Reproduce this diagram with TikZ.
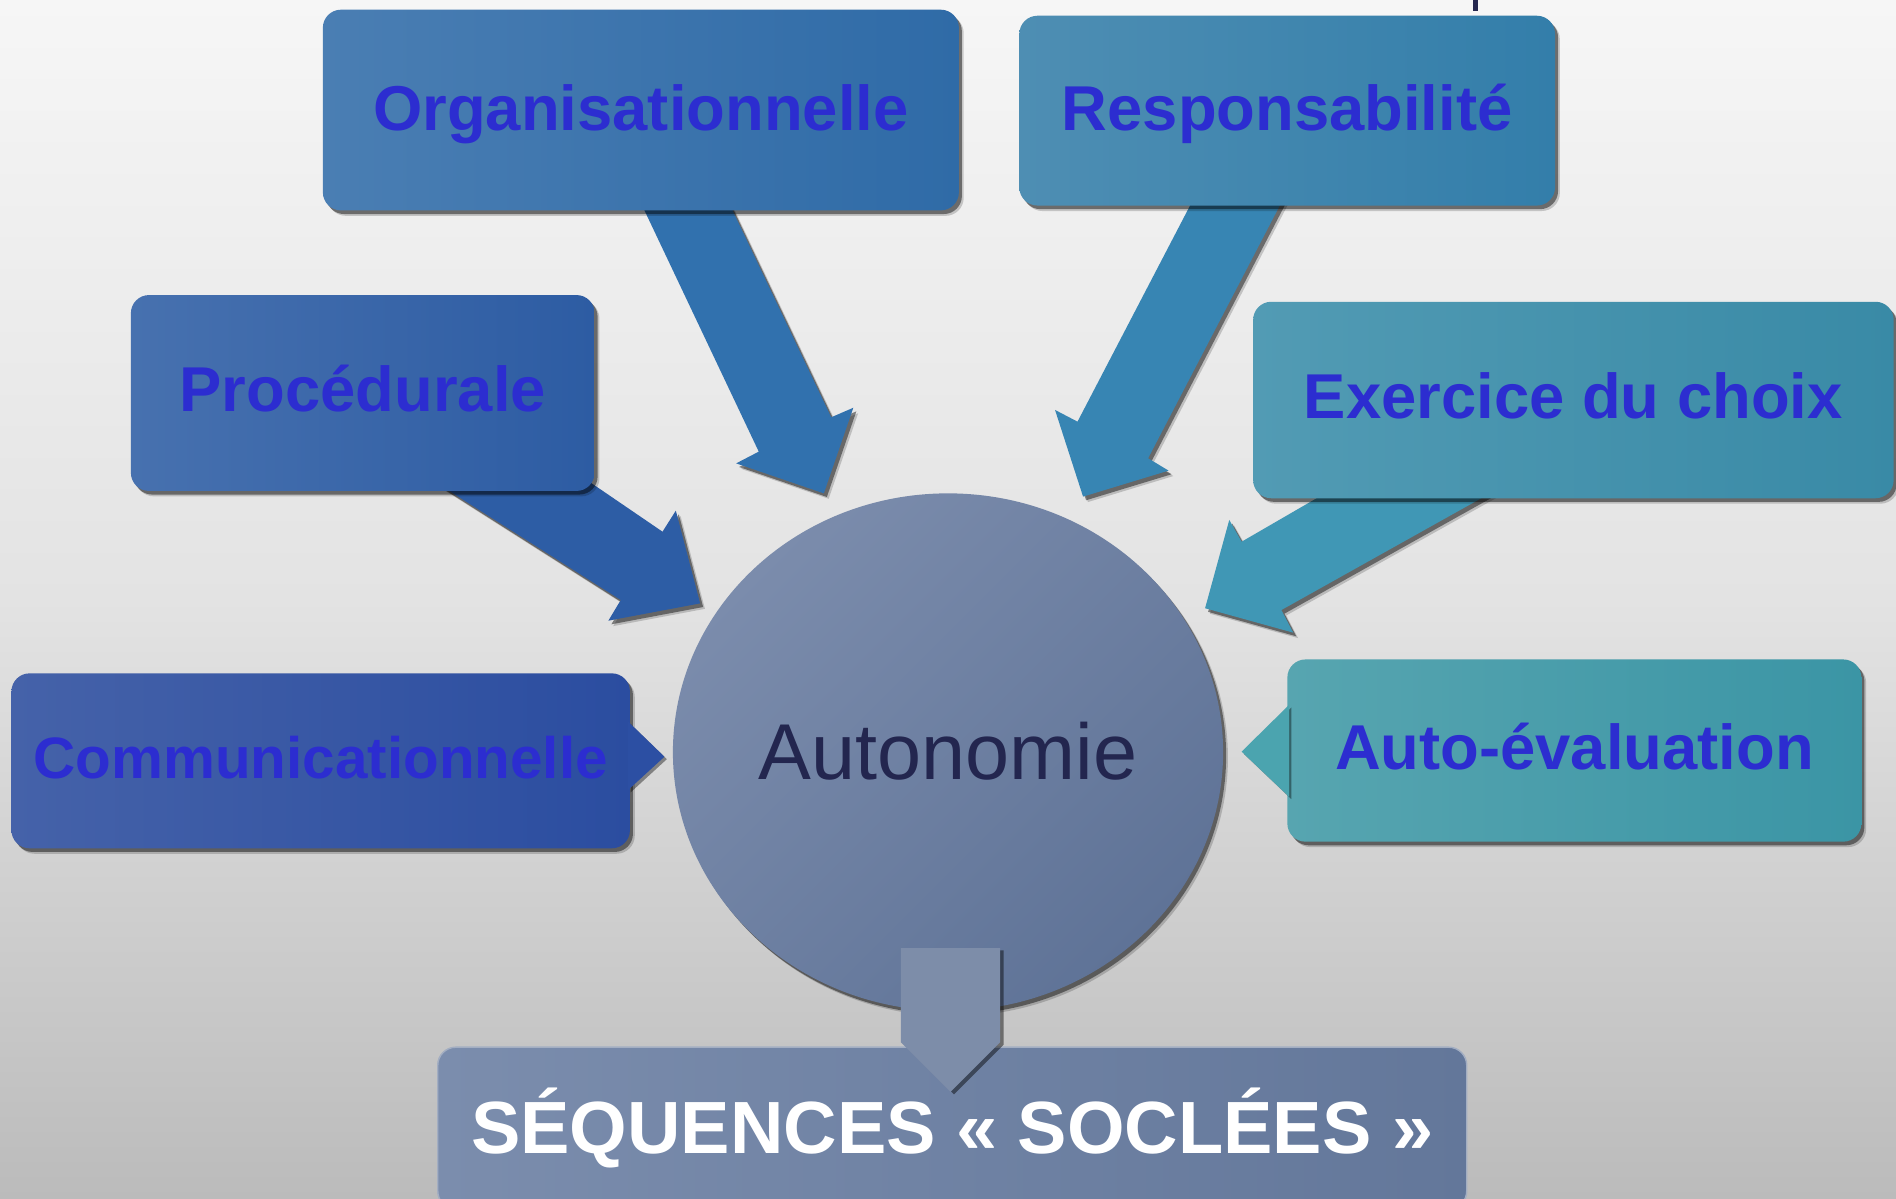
\documentclass[tikz,border=0pt]{standalone}
\usepackage{fontspec}
\setmainfont{Liberation Sans}
\usetikzlibrary{shapes.geometric,shadows}
\definecolor{bgtop}{HTML}{F6F6F6}
\definecolor{bgmid}{HTML}{E3E3E3}
\definecolor{bgbot}{HTML}{BBBBBB}
\definecolor{boxtext}{HTML}{2C2DD0}
\definecolor{autotext}{HTML}{23264F}
\definecolor{circA}{HTML}{7B8CAC}
\definecolor{circB}{HTML}{5F7397}
\definecolor{orgL}{HTML}{4A7EB3}\definecolor{orgM}{HTML}{3A78BA}\definecolor{orgR}{HTML}{2F6BA7}
\definecolor{respL}{HTML}{4E8EB3}\definecolor{respM}{HTML}{3A8BBB}\definecolor{respR}{HTML}{337EAA}
\definecolor{procL}{HTML}{4771AF}\definecolor{procM}{HTML}{3668B7}\definecolor{procR}{HTML}{2D5CA3}
\definecolor{exerL}{HTML}{529BB4}\definecolor{exerM}{HTML}{4399B8}\definecolor{exerR}{HTML}{398AA6}
\definecolor{commL}{HTML}{4562A9}\definecolor{commM}{HTML}{3259B6}\definecolor{commR}{HTML}{2B4DA0}
\definecolor{autoL}{HTML}{57A5B0}\definecolor{autoM}{HTML}{45A7B7}\definecolor{autoR}{HTML}{3B95A5}
\definecolor{orgArrow}{HTML}{3171AE}
\definecolor{respArrow}{HTML}{3785B3}
\definecolor{procArrow}{HTML}{2D5DA5}
\definecolor{exerArrow}{HTML}{4097B5}
\definecolor{commTri}{HTML}{2C4FA3}
\definecolor{autoTri}{HTML}{4BA4AF}
\definecolor{socL}{HTML}{7B8DAD}
\definecolor{socR}{HTML}{63779A}
\definecolor{socBorder}{HTML}{A3AEC2}
\definecolor{downArrow}{HTML}{7D8DA9}
\definecolor{markcol}{HTML}{262850}
\begin{document}
\begin{tikzpicture}[x=1pt,y=-1pt,
  softshadow/.style={
    drop shadow={shadow xshift=4pt, shadow yshift=-4.5pt, opacity=0.18, fill=black},
    drop shadow={shadow xshift=2.5pt, shadow yshift=-3pt, opacity=0.45, fill=black}},
  bx/.style={rounded corners=15pt, inner sep=0pt, text=boxtext,
    font=\bfseries\fontsize{52.4}{60}\selectfont, text height=37.5pt, softshadow},
  barrow/.style={softshadow},
  tri/.style={drop shadow={shadow xshift=2pt, shadow yshift=-2pt, opacity=0.4, fill=black}},
]
\useasboundingbox (0,0) rectangle (1568,991.5);
\clip (0,0) rectangle (1568,991.5);
% background
\shade[top color=bgtop, bottom color=bgbot, middle color=bgmid] (0,0) rectangle (1568,991.5);
% small mark at the top edge
\fill[markcol] (1218,-2) rectangle (1222.6,9);

% central circle
\node[ellipse, minimum width=455pt, minimum height=428pt, inner sep=0pt,
  top color=circA, bottom color=circB, shading angle=45, softshadow,
  text=autotext, font=\fontsize{65.5}{70}\selectfont, text height=46.9pt, text depth=1pt]
  (auto) at (784,622) {Autonomie};

% block arrows
\path[barrow, fill=orgArrow] (528.7,165) -- (627.5,373.5) -- (608.8,383.2) -- (681.3,408)
  -- (705.7,337.2) -- (687.4,345.1) -- (601.5,165) -- cycle;
\path[barrow, fill=respArrow] (988.6,161.5) -- (891.1,348.7) -- (872.5,339) -- (895.7,410.7)
  -- (966.4,389.2) -- (949.5,379) -- (1062.8,161.5) -- cycle;
\path[barrow, fill=procArrow] (355,395.5) -- (513.4,496.2) -- (503.1,513.3) -- (579,499)
  -- (558.9,422.3) -- (547.9,439.7) -- (478,392) -- cycle;
\path[barrow, fill=exerArrow] (1101,405) -- (1026.8,448) -- (1016.6,430) -- (996.6,503)
  -- (1069.5,523.2) -- (1059.7,504.5) -- (1237.6,405) -- cycle;

% boxes
\node[bx, minimum width=526pt, minimum height=166pt, left color=orgL, middle color=orgM, right color=orgR,
  text depth=3.5pt] (org) at (530,91) {Organisationnelle};
\node[bx, minimum width=443pt, minimum height=157pt, left color=respL, middle color=respM, right color=respR,
  text depth=4.5pt] (resp) at (1064.5,91.5) {Responsabilité};
\node[bx, minimum width=383.5pt, minimum height=162pt, left color=procL, middle color=procM, right color=procR,
  text depth=6.5pt] (proc) at (300,325) {Procédurale};
\node[bx, minimum width=529.7pt, minimum height=162.5pt, left color=exerL, middle color=exerM, right color=exerR,
  text depth=7pt] (exer) at (1301.2,330.8) {Exercice du choix};
\node[bx, minimum width=511.5pt, minimum height=144.7pt, left color=commL, middle color=commM, right color=commR,
  font=\bfseries\fontsize{48.3}{55}\selectfont, text height=34.6pt, text depth=5.6pt] (comm) at (265.2,629.2) {Communicationnelle};
\node[bx, minimum width=474.7pt, minimum height=150.7pt, left color=autoL, middle color=autoM, right color=autoR,
  text depth=6.5pt] (autoev) at (1302,620.7) {Auto-évaluation};

% side pointers
\path[tri, fill=commTri] (519.5,596.8) -- (549.5,625.8) -- (519.5,653.3) -- cycle;
\path[tri, fill=autoTri] (1066,583) -- (1026.8,621.6) -- (1066,658.9) -- cycle;

% bottom box
\node[rounded corners=15pt, inner sep=0pt, minimum width=851pt, minimum height=134pt,
  left color=socL, right color=socR, draw=socBorder, line width=1.2pt,
  text=white, font=\bfseries\fontsize{61.2}{66}\selectfont, text height=43.8pt, text depth=2.6pt]
  (soc) at (787.5,933) {SÉQUENCES «~SOCLÉES~»};

% down arrow from circle to bottom box
\path[drop shadow={shadow xshift=3pt, shadow yshift=-2pt, opacity=0.45, fill=black}, fill=downArrow]
  (745,784) -- (745,862) -- (786,903) -- (827,862) -- (827,784) -- cycle;
\end{tikzpicture}
\end{document}
